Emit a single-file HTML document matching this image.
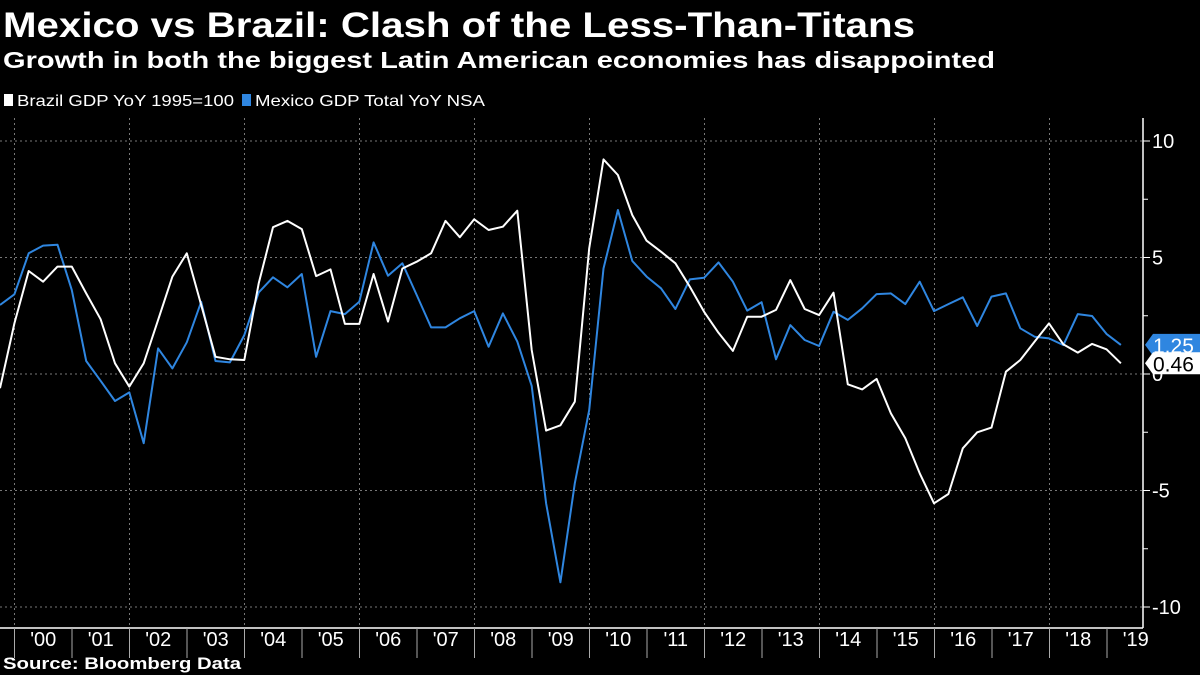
<!DOCTYPE html>
<html><head><meta charset="utf-8"><style>
html,body{margin:0;padding:0;background:#000;}
svg{display:block;font-family:"Liberation Sans",sans-serif;}
</style></head><body>
<svg id="chart" width="1200" height="675" viewBox="0 0 1200 675">
<rect x="0" y="0" width="1200" height="675" fill="#000"/>
<text x="3" y="37" fill="#fff" font-weight="bold" font-size="35" textLength="912" lengthAdjust="spacingAndGlyphs">Mexico vs Brazil: Clash of the Less-Than-Titans</text>
<text x="3" y="68" fill="#fff" font-weight="bold" font-size="23" textLength="992" lengthAdjust="spacingAndGlyphs">Growth in both the biggest Latin American economies has disappointed</text>
<g>
<g><rect x="4" y="94" width="9" height="12" fill="#fff"/><text x="17" y="106" fill="#fff" font-size="16" textLength="217" lengthAdjust="spacingAndGlyphs">Brazil GDP YoY 1995=100</text></g>
<g><rect x="242" y="94" width="9" height="12" fill="#2f86e0"/><text x="255" y="106" fill="#fff" font-size="16" textLength="230" lengthAdjust="spacingAndGlyphs">Mexico GDP Total YoY NSA</text></g>
</g>
<g id="grid"></g>
<g id="axes"></g>
<g id="series"></g>
<g id="tags"></g>
<text x="3" y="669" fill="#fff" font-weight="bold" font-size="17" textLength="238" lengthAdjust="spacingAndGlyphs">Source: Bloomberg Data</text>
</svg>
<script>
const yTicks = [10, 5, 0, -5, -10];
const yTickLabels = ["10", "5", "0", "-5", "-10"];
const yearLabels = ["'00","'01","'02","'03","'04","'05","'06","'07","'08","'09","'10","'11","'12","'13","'14","'15","'16","'17","'18","'19"];
const brazil = [-0.61,2.17,4.42,3.96,4.61,4.61,3.46,2.35,0.46,-0.54,0.46,2.32,4.18,5.18,2.96,0.74,0.63,0.6,3.89,6.3,6.57,6.22,4.2,4.49,2.15,2.15,4.29,2.25,4.53,4.82,5.18,6.57,5.87,6.64,6.18,6.32,7.01,1.03,-2.43,-2.2,-1.19,5.39,9.21,8.54,6.82,5.72,5.25,4.75,3.75,2.67,1.77,0.99,2.46,2.46,2.75,4.03,2.79,2.53,3.49,-0.44,-0.66,-0.21,-1.69,-2.76,-4.26,-5.55,-5.15,-3.19,-2.5,-2.3,0.1,0.6,1.39,2.17,1.27,0.92,1.29,1.06,0.46];
const mexico = [2.96,3.42,5.18,5.51,5.55,3.6,0.56,-0.29,-1.16,-0.79,-2.97,1.1,0.24,1.36,3.1,0.56,0.5,1.67,3.5,4.15,3.72,4.29,0.74,2.7,2.57,3.1,5.65,4.22,4.75,3.39,2.0,2.0,2.39,2.7,1.17,2.6,1.39,-0.51,-5.55,-8.94,-4.69,-1.55,4.53,7.04,4.85,4.18,3.68,2.79,4.06,4.13,4.79,3.96,2.72,3.08,0.63,2.1,1.46,1.2,2.67,2.32,2.82,3.43,3.46,3.0,3.96,2.7,3.0,3.29,2.06,3.32,3.46,1.96,1.6,1.53,1.24,2.57,2.49,1.72,1.25];
const brazilLast = "0.46";
const mexicoLast = "1.25";

const NS = "http://www.w3.org/2000/svg";
const plotRight = 1143, axisY = 628;
const y = v => 374 - v * 23.3;
const x = i => i * 14.37;
const yearX = k => 14.5 + k * 57.5;
function mk(tag, attrs, parent) {
  const e = document.createElementNS(NS, tag);
  for (const k in attrs) e.setAttribute(k, attrs[k]);
  parent.appendChild(e);
  return e;
}
const grid = document.getElementById('grid');
const axes = document.getElementById('axes');
const series = document.getElementById('series');
const tags = document.getElementById('tags');

yTicks.forEach((t, i) => {
  const l = mk('line', {x1:0, x2:plotRight, y1:y(t), y2:y(t), stroke:'#777', 'stroke-width':1, 'stroke-dasharray':'2,3'}, grid);
  
  
  const tk = mk('line', {x1:plotRight, x2:plotRight+7, y1:y(t), y2:y(t), stroke:'#fff', 'stroke-width':1}, axes);
  
  
  const tx = mk('text', {x:plotRight+9, y:y(t)+7, fill:'#fff', 'font-size':20}, axes);
  tx.textContent = yTickLabels[i];
  
  
});
[7.5, 2.5, -2.5, -7.5].forEach(t => {
  const tk = mk('line', {x1:plotRight, x2:plotRight+5, y1:y(t), y2:y(t), stroke:'#fff', 'stroke-width':1}, axes);
  
  
});
for (let k = 0; k < yearLabels.length; k += 2) {
  const l = mk('line', {x1:yearX(k), x2:yearX(k), y1:118, y2:axisY, stroke:'#777', 'stroke-width':1, 'stroke-dasharray':'2,3'}, grid);
  
  
}
const yAxis = mk('line', {x1:plotRight, x2:plotRight, y1:118, y2:axisY, stroke:'#fff', 'stroke-width':1.5}, axes);


const xAxis = mk('line', {x1:0, x2:plotRight, y1:axisY, y2:axisY, stroke:'#fff', 'stroke-width':1.5}, axes);


yearLabels.forEach((lab, k) => {
  const tk = mk('line', {x1:yearX(k), x2:yearX(k), y1:axisY, y2:axisY+30, stroke:'#aaa', 'stroke-width':1}, axes);
  
  
  const tx = mk('text', {x:yearX(k)+28.75, y:axisY+18, fill:'#fff', 'font-size':20, 'text-anchor':'middle'}, axes);
  tx.textContent = lab;
  
  
});
function path(data, color, name) {
  const d = data.map((v, i) => (i ? 'L' : 'M') + x(i).toFixed(1) + ',' + y(v).toFixed(1)).join('');
  const p = mk('path', {d:d, fill:'none', stroke:color, 'stroke-width':2, 'stroke-linejoin':'round'}, series);
  
  
}
path(mexico, '#2f86e0', 'mexico-line');
path(brazil, '#ffffff', 'brazil-line');
function tag(v, label, bg, fg, name) {
  const cy = y(v);
  const g = mk('g', {}, tags);
  
  
  mk('path', {d:`M${plotRight+2},${cy} L${plotRight+10},${cy-11} L1200,${cy-11} L1200,${cy+11} L${plotRight+10},${cy+11} Z`, fill:bg}, g);
  const t = mk('text', {x:1153, y:cy+8, fill:fg, 'font-size':21}, g);
  t.textContent = label;
}
tag(mexico[mexico.length-1], mexicoLast, '#2f86e0', '#fff', 'mexico-value-tag');
tag(brazil[brazil.length-1], brazilLast, '#fff', '#000', 'brazil-value-tag');
</script>
</body></html>
